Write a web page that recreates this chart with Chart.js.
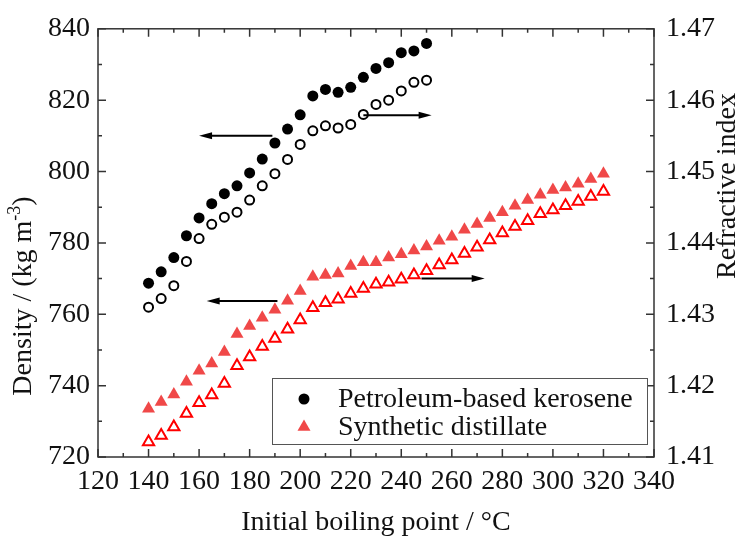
<!DOCTYPE html>
<html>
<head>
<meta charset="utf-8">
<script src="https://cdn.jsdelivr.net/npm/chart.js@4.4.1/dist/chart.umd.min.js"></script>
<style>
  html, body { margin: 0; padding: 0; background: #fff; }
</style>
</head>
<body>
<canvas id="chart" width="750" height="542"></canvas>
<script>
// initial boiling points (°C)
const ibpKerosene = [140, 145, 150, 155, 160, 165, 170, 175, 180, 185, 190, 195, 200,
  205, 210, 215, 220, 225, 230, 235, 240, 245, 250];
const ibpSynthetic = [140, 145, 150, 155, 160, 165, 170, 175, 180, 185, 190, 195, 200,
  205, 210, 215, 220, 225, 230, 235, 240, 245, 250, 255, 260, 265, 270, 275, 280,
  285, 290, 295, 300, 305, 310, 315, 320];

// density, kg m-3 (left axis)
const densityKerosene = [768.7, 771.9, 775.9, 782.0, 787.0, 791.0, 793.8, 796.0, 799.6,
  803.5, 808.0, 811.9, 815.9, 821.2, 823.0, 822.2, 823.6, 826.4, 828.9, 830.5, 833.3,
  833.8, 835.9];
const densitySynthetic = [733.5, 735.4, 737.5, 741.1, 744.2, 746.2, 749.4, 754.5, 756.7,
  759.0, 761.3, 763.8, 766.5, 770.5, 771.0, 771.4, 773.5, 774.6, 774.6, 775.9, 776.8,
  777.9, 779.0, 780.6, 781.7, 783.7, 785.3, 787.0, 788.6, 790.4, 792.0, 793.5, 794.8,
  795.5, 796.6, 797.9, 799.4];

// refractive index (right axis)
const riKerosene = [1.4310, 1.4322, 1.4340, 1.4374, 1.4406, 1.4426, 1.4436, 1.4443,
  1.4460, 1.4480, 1.4497, 1.4517, 1.4538, 1.4557, 1.4564, 1.4561, 1.4566, 1.4580,
  1.4594, 1.4600, 1.4613, 1.4625, 1.4628];
const riSynthetic = [1.4121, 1.4130, 1.4142, 1.4161, 1.4176, 1.4187, 1.4203, 1.4228,
  1.4240, 1.4255, 1.4266, 1.4279, 1.4292, 1.4309, 1.4316, 1.4321, 1.4329, 1.4336,
  1.4342, 1.4345, 1.4349, 1.4355, 1.4361, 1.4369, 1.4376, 1.4385, 1.4394, 1.4404,
  1.4414, 1.4423, 1.4431, 1.4441, 1.4446, 1.4452, 1.4458, 1.4465, 1.4472];

const legendLabels = ['Petroleum-based kerosene', 'Synthetic distillate'];

// arrows pointing to the axis each series belongs to: [axis, x from, x to, y]
const arrows = [
  ['y', 189, 160, 810],
  ['y1', 225, 252, 1.4579],
  ['y', 191, 163, 763.7],
  ['y1', 248, 273, 1.4350]
];

const SERIF = "'Liberation Serif', 'Times New Roman', serif";
const INK = '#111';
const RED_FILL = '#f04848';
const RED_LINE = '#ff0000';

function pts(xs, ys) {
  return xs.map((x, i) => ({ x: x, y: ys[i] }));
}

const frameTicks = {
  id: 'frameTicks',
  afterDatasetsDraw(chart) {
    const ctx = chart.ctx;
    const a = chart.chartArea;
    const sx = chart.scales.x, sy = chart.scales.y, sy1 = chart.scales.y1;
    ctx.save();

    // arrows
    ctx.strokeStyle = '#000';
    ctx.fillStyle = '#000';
    ctx.lineWidth = 2;
    arrows.forEach(ar => {
      const sc = chart.scales[ar[0]];
      const x0 = sx.getPixelForValue(ar[1]);
      const x1 = sx.getPixelForValue(ar[2]);
      const y = sc.getPixelForValue(ar[3]);
      const dir = x1 > x0 ? 1 : -1;
      ctx.beginPath();
      ctx.moveTo(x0, y);
      ctx.lineTo(x1 - dir * 10, y);
      ctx.stroke();
      ctx.beginPath();
      ctx.moveTo(x1, y);
      ctx.lineTo(x1 - dir * 13, y - 3.5);
      ctx.lineTo(x1 - dir * 13, y + 3.5);
      ctx.closePath();
      ctx.fill();
    });

    // frame
    ctx.strokeStyle = '#333';
    ctx.lineWidth = 1.5;
    ctx.strokeRect(a.left, a.top, a.right - a.left, a.bottom - a.top);

    // inward ticks
    ctx.beginPath();
    for (let v = sx.min; v <= sx.max + 0.001; v += 10) {
      const px = sx.getPixelForValue(v);
      const len = (Math.round(v) % 20 === 0) ? 8 : 4;
      ctx.moveTo(px, a.bottom); ctx.lineTo(px, a.bottom - len);
      ctx.moveTo(px, a.top); ctx.lineTo(px, a.top + len);
    }
    for (let v = sy.min; v <= sy.max + 0.001; v += 10) {
      const py = sy.getPixelForValue(v);
      const len = (Math.round(v) % 20 === 0) ? 8 : 4;
      ctx.moveTo(a.left, py); ctx.lineTo(a.left + len, py);
    }
    for (let k = 0; k <= 12; k++) {
      const v = sy1.min + k * 0.005;
      const py = sy1.getPixelForValue(v);
      const len = (k % 2 === 0) ? 8 : 4;
      ctx.moveTo(a.right, py); ctx.lineTo(a.right - len, py);
    }
    ctx.stroke();

    // legend
    const lx = 272, ly = 378, lw = 375, lh = 66;
    ctx.fillStyle = '#fff';
    ctx.fillRect(lx, ly, lw, lh);
    ctx.strokeStyle = '#555';
    ctx.lineWidth = 1;
    ctx.strokeRect(lx + 0.5, ly + 0.5, lw, lh);
    const ds = chart.data.datasets;
    [0, 2].forEach((di, row) => {
      const d = ds[di];
      const cy = ly + 21 + row * 28;
      ctx.fillStyle = d.backgroundColor;
      ctx.beginPath();
      if (d.pointStyle === 'circle') {
        ctx.arc(304, cy, d.pointRadius, 0, Math.PI * 2);
      } else {
        const r = d.pointRadius;
        ctx.moveTo(304, cy - r);
        ctx.lineTo(304 + r * 0.866, cy + r * 0.5);
        ctx.lineTo(304 - r * 0.866, cy + r * 0.5);
        ctx.closePath();
      }
      ctx.fill();
      ctx.fillStyle = INK;
      ctx.font = '28px ' + SERIF;
      ctx.textBaseline = 'middle';
      ctx.textAlign = 'left';
      ctx.fillText(legendLabels[row], 338, cy + 1);
    });

    // axis titles
    ctx.fillStyle = INK;
    ctx.font = '28px ' + SERIF;
    ctx.textAlign = 'center';
    ctx.textBaseline = 'middle';
    ctx.fillText('Initial boiling point / \u00B0C', (a.left + a.right) / 2, 523);

    // left title with superscript
    ctx.save();
    ctx.translate(24, 296);
    ctx.rotate(-Math.PI / 2);
    const main = 'Density / (kg m';
    ctx.font = '28px ' + SERIF;
    const w1 = ctx.measureText(main).width;
    ctx.font = '18px ' + SERIF;
    const w2 = ctx.measureText('-3').width;
    ctx.font = '28px ' + SERIF;
    const w3 = ctx.measureText(')').width;
    const x0 = -(w1 + w2 + w3) / 2;
    ctx.textAlign = 'left';
    ctx.fillText(main, x0, 0);
    ctx.font = '18px ' + SERIF;
    ctx.fillText('-3', x0 + w1, -9);
    ctx.font = '28px ' + SERIF;
    ctx.fillText(')', x0 + w1 + w2, 0);
    ctx.restore();

    ctx.save();
    ctx.translate(728, 186);
    ctx.rotate(-Math.PI / 2);
    ctx.textAlign = 'center';
    ctx.fillText('Refractive index', 0, 0);
    ctx.restore();

    ctx.restore();
  }
};

const tickFont = { family: SERIF, size: 28 };

new Chart(document.getElementById('chart'), {
  type: 'scatter',
  data: {
    datasets: [
      {
        label: legendLabels[0],
        data: pts(ibpKerosene, densityKerosene),
        yAxisID: 'y',
        pointStyle: 'circle',
        pointRadius: 5.5,
        backgroundColor: '#000',
        borderColor: '#000',
        borderWidth: 0
      },
      {
        label: 'Kerosene RI',
        data: pts(ibpKerosene, riKerosene),
        yAxisID: 'y1',
        pointStyle: 'circle',
        pointRadius: 4.5,
        backgroundColor: '#fff',
        borderColor: '#000',
        borderWidth: 2
      },
      {
        label: legendLabels[1],
        data: pts(ibpSynthetic, densitySynthetic),
        yAxisID: 'y',
        pointStyle: 'triangle',
        pointRadius: 7.5,
        backgroundColor: RED_FILL,
        borderColor: RED_FILL,
        borderWidth: 0
      },
      {
        label: 'Synthetic RI',
        data: pts(ibpSynthetic, riSynthetic),
        yAxisID: 'y1',
        pointStyle: 'triangle',
        pointRadius: 6.5,
        backgroundColor: '#fff',
        borderColor: RED_LINE,
        borderWidth: 2
      }
    ]
  },
  options: {
    responsive: false,
    animation: false,
    layout: { padding: { top: 9, left: 0, right: 0, bottom: 0 } },
    plugins: {
      legend: { display: false },
      tooltip: { enabled: false }
    },
    scales: {
      x: {
        type: 'linear',
        min: 120,
        max: 340,
        grid: { display: false, drawTicks: false },
        border: { display: false },
        ticks: { stepSize: 20, font: tickFont, color: INK, padding: 8, maxRotation: 0 },
        afterFit: s => { s.height = 85; }
      },
      y: {
        position: 'left',
        min: 720,
        max: 840,
        grid: { display: false, drawTicks: false },
        border: { display: false },
        ticks: { stepSize: 20, font: tickFont, color: INK, padding: 8 },
        afterFit: s => { s.width = 98; }
      },
      y1: {
        position: 'right',
        min: 1.41,
        max: 1.47,
        grid: { display: false, drawTicks: false },
        border: { display: false },
        ticks: {
          stepSize: 0.01,
          font: tickFont,
          color: INK,
          padding: 12,
          callback: v => v.toFixed(2)
        },
        afterFit: s => { s.width = 96; }
      }
    }
  },
  plugins: [frameTicks]
});
</script>
</body>
</html>
